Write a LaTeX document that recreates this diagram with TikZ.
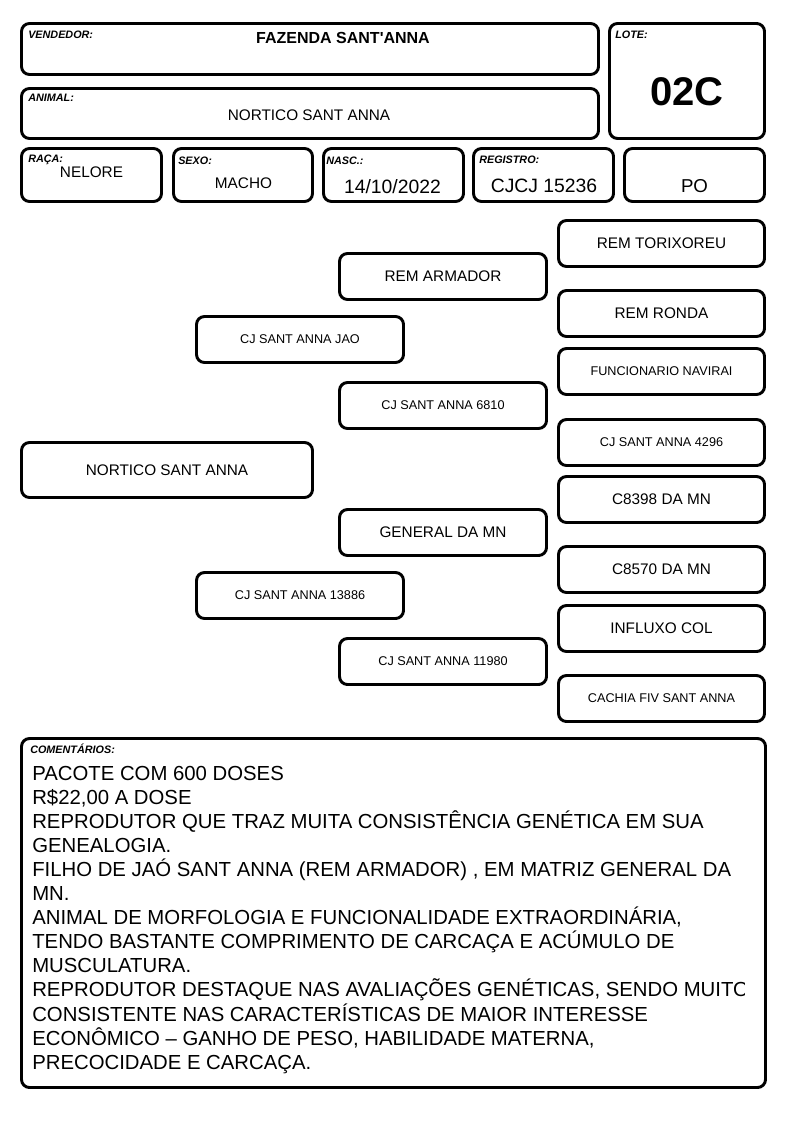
\documentclass[tikz,border=0pt]{standalone}
\usepackage{fontspec}
\setmainfont{Liberation Sans}[Ligatures=TeXOff]
\tikzset{
  frame/.style={draw, line width=2.2pt, rounded corners=6pt, inner sep=0pt, outer sep=0pt},
  big/.style={font=\fontsize{11.5pt}{13pt}\selectfont},
  small/.style={font=\fontsize{9.5pt}{11pt}\selectfont},
  lbl/.style={anchor=base west, inner sep=0pt, font=\fontsize{8.1pt}{9pt}\selectfont\bfseries\itshape},
  val/.style={anchor=base, inner sep=0pt},
  cline/.style={anchor=base west, inner sep=0pt, font=\fontsize{15.25pt}{18pt}\selectfont}
}
\newcommand\bx[6]{\node[frame, #6, minimum width={(#4-#2-3)*0.75pt}, minimum height={(#5-#3-3)*0.75pt}] (#1) at ({(#2+#4)/2},{(#3+#5)/2})}
\begin{document}
\begin{tikzpicture}[x=0.75pt, y=-0.75pt]
\useasboundingbox[fill=white] (0,0) rectangle (794,1123);
% header
\bx{vend}{20}{22}{600}{76}{}{};
\bx{anim}{20}{87}{600}{140}{}{};
\bx{lote}{608}{22}{766}{140}{}{};
\bx{raca}{20}{147}{163}{203}{}{};
\bx{sexo}{172}{147}{314}{203}{}{};
\bx{nasc}{322}{147}{465}{203}{}{};
\bx{reg}{472}{147}{615}{203}{}{};
\bx{po}{623}{147}{766}{203}{}{};
\node[lbl] (lvend) at (28,38.5) {VENDEDOR:};
\node[lbl] (lanim) at (28,102) {ANIMAL:};
\node[lbl] (llote) at (615,39) {LOTE:};
\node[lbl] (lraca) at (28,163) {RAÇA:};
\node[lbl] (lsexo) at (178,165) {SEXO:};
\node[lbl] (lnasc) at (326,165) {NASC.:};
\node[lbl] (lreg) at (479,164) {REGISTRO:};
\node[val, font=\fontsize{12pt}{14pt}\selectfont\bfseries] (tvend) at (343,43.5) {FAZENDA SANT'ANNA};
\node[val, big] (tanim) at (309,121) {NORTICO SANT ANNA};
\node[val, font=\fontsize{30pt}{34pt}\selectfont\bfseries] (tlote) at (687,106) {02C};
\node[val, big] (traca) at (91.5,178) {NELORE};
\node[val, big] (tsexo) at (243.5,189) {MACHO};
\node[val, font=\fontsize{14.5pt}{16pt}\selectfont] (tnasc) at (392.5,194) {14/10/2022};
\node[val, font=\fontsize{14.5pt}{16pt}\selectfont] (treg) at (544,193) {CJCJ 15236};
\node[val, font=\fontsize{14pt}{16pt}\selectfont] (tpo) at (694.5,193) {PO};
% pedigree
\bx{animal}{20}{441}{314}{499}{big}{NORTICO SANT ANNA};
\bx{pai}{195}{315}{405}{364}{small}{CJ SANT ANNA JAO};
\bx{mae}{195}{571}{405}{620}{small}{CJ SANT ANNA 13886};
\bx{pp}{338}{252}{548}{301}{big}{REM ARMADOR};
\bx{pm}{338}{381}{548}{430}{small}{CJ SANT ANNA 6810};
\bx{mp}{338}{508}{548}{557}{big}{GENERAL DA MN};
\bx{mm}{338}{637}{548}{686}{small}{CJ SANT ANNA 11980};
\bx{ppp}{557}{219}{766}{268}{big}{REM TORIXOREU};
\bx{ppm}{557}{289}{766}{338}{big}{REM RONDA};
\bx{pmp}{557}{347}{766}{396}{small}{FUNCIONARIO NAVIRAI};
\bx{pmm}{557}{418}{766}{467}{small}{CJ SANT ANNA 4296};
\bx{mpp}{557}{475}{766}{524}{big}{C8398 DA MN};
\bx{mpm}{557}{545}{766}{594}{big}{C8570 DA MN};
\bx{mmp}{557}{604}{766}{653}{big}{INFLUXO COL};
\bx{mmm}{557}{674}{766}{723}{small}{CACHIA FIV SANT ANNA};
% comments
\bx{com}{20}{737}{767}{1089}{}{};
\node[lbl] (lcom) at (30,753) {COMENTÁRIOS:};
\begin{scope}
\clip (22,739) rectangle (744,1087);
\foreach \t [count=\i] in {
 {PACOTE COM 600 DOSES},
 {R\$22,00 A DOSE},
 {REPRODUTOR QUE TRAZ MUITA CONSISTÊNCIA GENÉTICA EM SUA},
 {GENEALOGIA.},
 {FILHO DE JAÓ SANT ANNA (REM ARMADOR) , EM MATRIZ GENERAL DA},
 {MN.},
 {ANIMAL DE MORFOLOGIA E FUNCIONALIDADE EXTRAORDINÁRIA,},
 {TENDO BASTANTE COMPRIMENTO DE CARCAÇA E ACÚMULO DE},
 {MUSCULATURA.},
 {REPRODUTOR DESTAQUE NAS AVALIAÇÕES GENÉTICAS, SENDO MUITO},
 {CONSISTENTE NAS CARACTERÍSTICAS DE MAIOR INTERESSE},
 {ECONÔMICO – GANHO DE PESO, HABILIDADE MATERNA,},
 {PRECOCIDADE E CARCAÇA.}}
 \node[cline] (c\i) at (32,{780+(\i-1)*24.1}) {\t};
\end{scope}
\end{tikzpicture}
\end{document}
